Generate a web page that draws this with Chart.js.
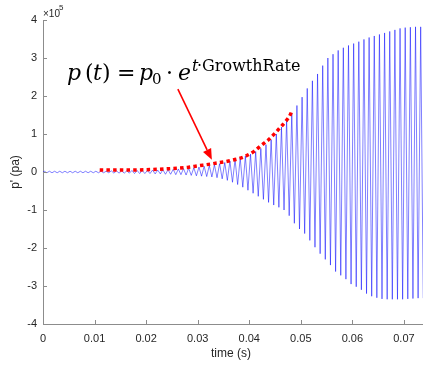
<!DOCTYPE html>
<html lang="en">
<head>
<meta charset="UTF-8">
<title>Pressure oscillation growth</title>
<script src="https://cdn.jsdelivr.net/npm/chart.js"></script>
<style>html,body{margin:0;padding:0;background:#fff;}</style>
</head>
<body>
<canvas id="chart" width="423" height="368"></canvas>
<script>
// one oscillation cycle per ms; peak values in units of 1e5 pa
const periodMs = 1;
const upperPeaks = [
  0.02, 0.02, 0.02, 0.02, 0.02, 0.02, 0.02, 0.02, 0.02, 0.02,
  0.02, 0.02, 0.02, 0.03, 0.03, 0.03, 0.03, 0.04, 0.04, 0.04,
  0.04, 0.05, 0.05, 0.06, 0.06, 0.07, 0.08, 0.09, 0.10, 0.11,
  0.13, 0.15, 0.17, 0.19, 0.22, 0.25, 0.29, 0.33, 0.37, 0.42,
  0.47, 0.54, 0.62, 0.72, 0.85, 1.00, 1.18, 1.37, 1.55, 1.75,
  1.97, 2.20, 2.40, 2.58, 2.80, 3.00, 3.10, 3.20, 3.27, 3.33,
  3.38, 3.43, 3.49, 3.54, 3.58, 3.62, 3.66, 3.70, 3.74, 3.78,
  3.80, 3.81, 3.82, 3.82
];
const lowerPeaks = [
  -0.02, -0.02, -0.02, -0.02, -0.02, -0.02, -0.02, -0.02, -0.02, -0.02,
  -0.02, -0.02, -0.02, -0.03, -0.03, -0.03, -0.03, -0.04, -0.04, -0.04,
  -0.04, -0.05, -0.05, -0.06, -0.06, -0.07, -0.07, -0.08, -0.09, -0.10,
  -0.11, -0.12, -0.13, -0.15, -0.18, -0.22, -0.27, -0.33, -0.40, -0.48,
  -0.56, -0.64, -0.72, -0.80, -0.87, -0.93, -1.00, -1.15, -1.35, -1.50,
  -1.62, -1.80, -1.98, -2.15, -2.30, -2.45, -2.62, -2.72, -2.82, -2.95,
  -3.02, -3.10, -3.20, -3.27, -3.31, -3.34, -3.35, -3.35, -3.35, -3.35,
  -3.34, -3.33, -3.32, -3.32
];

// red dotted exponential fit (time in s, value in 1e5 pa)
const fitTimes = [0.011, 0.015, 0.020, 0.025, 0.028, 0.030, 0.033, 0.036, 0.039, 0.041,
                  0.042, 0.043, 0.044, 0.045, 0.046, 0.047, 0.048, 0.0483];
const fitValues = [0.05, 0.05, 0.06, 0.09, 0.12, 0.16, 0.22, 0.29, 0.40, 0.55,
                   0.66, 0.77, 0.88, 1.02, 1.17, 1.32, 1.52, 1.63];

const xTicks = [0, 0.01, 0.02, 0.03, 0.04, 0.05, 0.06, 0.07];
const yTicks = [-4, -3, -2, -1, 0, 1, 2, 3, 4];

const signal = [{x: 0, y: 0}];
upperPeaks.forEach((v, i) => {
  signal.push({x: (i + 0.25) * periodMs / 1000, y: v});
  signal.push({x: (i + 0.75) * periodMs / 1000, y: lowerPeaks[i]});
});
const fit = fitTimes.map((t, i) => ({x: t, y: fitValues[i]}));

const tickFont = {family: "'Liberation Sans', Arial, sans-serif", size: 11};

// MATLAB-like inward ticks, axis titles, exponent label, formula and arrow
const decorations = {
  id: 'decorations',
  afterDraw(chart) {
    const ctx = chart.ctx;
    const xs = chart.scales.x, ys = chart.scales.y;
    const a = chart.chartArea;
    ctx.save();
    ctx.strokeStyle = '#8c8c8c';
    ctx.lineWidth = 1;
    ctx.beginPath();
    xTicks.forEach(t => {
      const px = Math.round(xs.getPixelForValue(t)) + 0.5;
      ctx.moveTo(px, a.bottom); ctx.lineTo(px, a.bottom - 4);
    });
    yTicks.forEach(v => {
      const py = Math.round(ys.getPixelForValue(v)) + 0.5;
      ctx.moveTo(a.left, py); ctx.lineTo(a.left + 4, py);
    });
    ctx.stroke();

    ctx.fillStyle = '#262626';
    ctx.font = "12px 'Liberation Sans', Arial, sans-serif";
    ctx.textAlign = 'center';
    ctx.textBaseline = 'middle';
    ctx.fillText('time (s)', (a.left + a.right) / 2 - 2, 354);
    ctx.save();
    ctx.translate(16, (a.top + a.bottom) / 2);
    ctx.rotate(-Math.PI / 2);
    ctx.fillText("p' (pa)", 0, 0);
    ctx.restore();

    ctx.textAlign = 'left';
    ctx.textBaseline = 'alphabetic';
    ctx.font = "10px 'Liberation Sans', Arial, sans-serif";
    ctx.fillText('\u00d710', 43, 17);
    ctx.font = "8px 'Liberation Sans', Arial, sans-serif";
    ctx.fillText('5', 59, 10);

    // formula
    ctx.fillStyle = '#000';
    const it = "italic 22px 'DejaVu Serif', serif";
    const up = "22px 'DejaVu Serif', serif";
    const sup = "16px 'DejaVu Serif', serif";
    const base = 80;
    const parts = [
      [it, 'p', 67, base], [up, '(', 85, base], [it, 't', 93, base], [up, ')', 102, base],
      [up, '=', 117, base], [it, 'p', 139, base], ["15px 'DejaVu Serif', serif", '0', 152, base + 4],
      [up, '\u00b7', 166, base], [it, 'e', 178, base],
      ["italic 16px 'DejaVu Serif', serif", 't', 192, base - 9],
      [sup, '\u00b7GrowthRate', 197, base - 9]
    ];
    parts.forEach(([f, s, x, y]) => { ctx.font = f; ctx.fillText(s, x, y); });

    // arrow
    const x0 = xs.getPixelForValue(0.02616), y0 = ys.getPixelForValue(2.18);
    const x1 = xs.getPixelForValue(0.03275), y1 = ys.getPixelForValue(0.32);
    const ang = Math.atan2(y1 - y0, x1 - x0);
    const hl = 11, hw = 4.5;
    const bx = x1 - hl * Math.cos(ang), by = y1 - hl * Math.sin(ang);
    ctx.strokeStyle = '#ff0000';
    ctx.fillStyle = '#ff0000';
    ctx.lineWidth = 1.6;
    ctx.beginPath();
    ctx.moveTo(x0, y0); ctx.lineTo(bx, by);
    ctx.stroke();
    ctx.beginPath();
    ctx.moveTo(x1, y1);
    ctx.lineTo(bx + hw * Math.sin(ang), by - hw * Math.cos(ang));
    ctx.lineTo(bx - hw * Math.sin(ang), by + hw * Math.cos(ang));
    ctx.closePath();
    ctx.fill();
    ctx.restore();
  }
};

new Chart(document.getElementById('chart'), {
  type: 'line',
  data: {
    datasets: [
      {
        data: fit,
        borderColor: '#ff0000',
        borderWidth: 3.5,
        borderDash: [3.5, 3.2],
        borderCapStyle: 'butt',
        cubicInterpolationMode: 'monotone',
        pointRadius: 0,
        order: 0
      },
      {
        data: signal,
        borderColor: '#0000ff',
        borderWidth: 0.5,
        pointRadius: 0,
        tension: 0,
        order: 1
      }
    ]
  },
  options: {
    responsive: false,
    animation: false,
    devicePixelRatio: 1,
    layout: {padding: {top: 20, right: 0, left: 0, bottom: 0}},
    plugins: {legend: {display: false}, tooltip: {enabled: false}},
    scales: {
      x: {
        type: 'linear',
        min: 0,
        max: 0.0737,
        afterFit: s => { s.height = 44; },
        afterBuildTicks: s => { s.ticks = xTicks.map(v => ({value: v})); },
        grid: {display: false, drawTicks: false, tickLength: 0},
        border: {display: true, color: '#8c8c8c', width: 1},
        ticks: {
          padding: 8,
          maxRotation: 0,
          color: '#262626',
          font: tickFont,
          callback: v => v === 0 ? '0' : v.toFixed(2)
        }
      },
      y: {
        min: -4,
        max: 4,
        afterFit: s => { s.width = 43; },
        afterBuildTicks: s => { s.ticks = yTicks.map(v => ({value: v})); },
        grid: {display: false, drawTicks: false, tickLength: 0},
        border: {display: true, color: '#8c8c8c', width: 1},
        ticks: {
          padding: 6,
          color: '#262626',
          font: tickFont,
          callback: v => String(v)
        }
      }
    }
  },
  plugins: [decorations]
});
</script>
</body>
</html>
